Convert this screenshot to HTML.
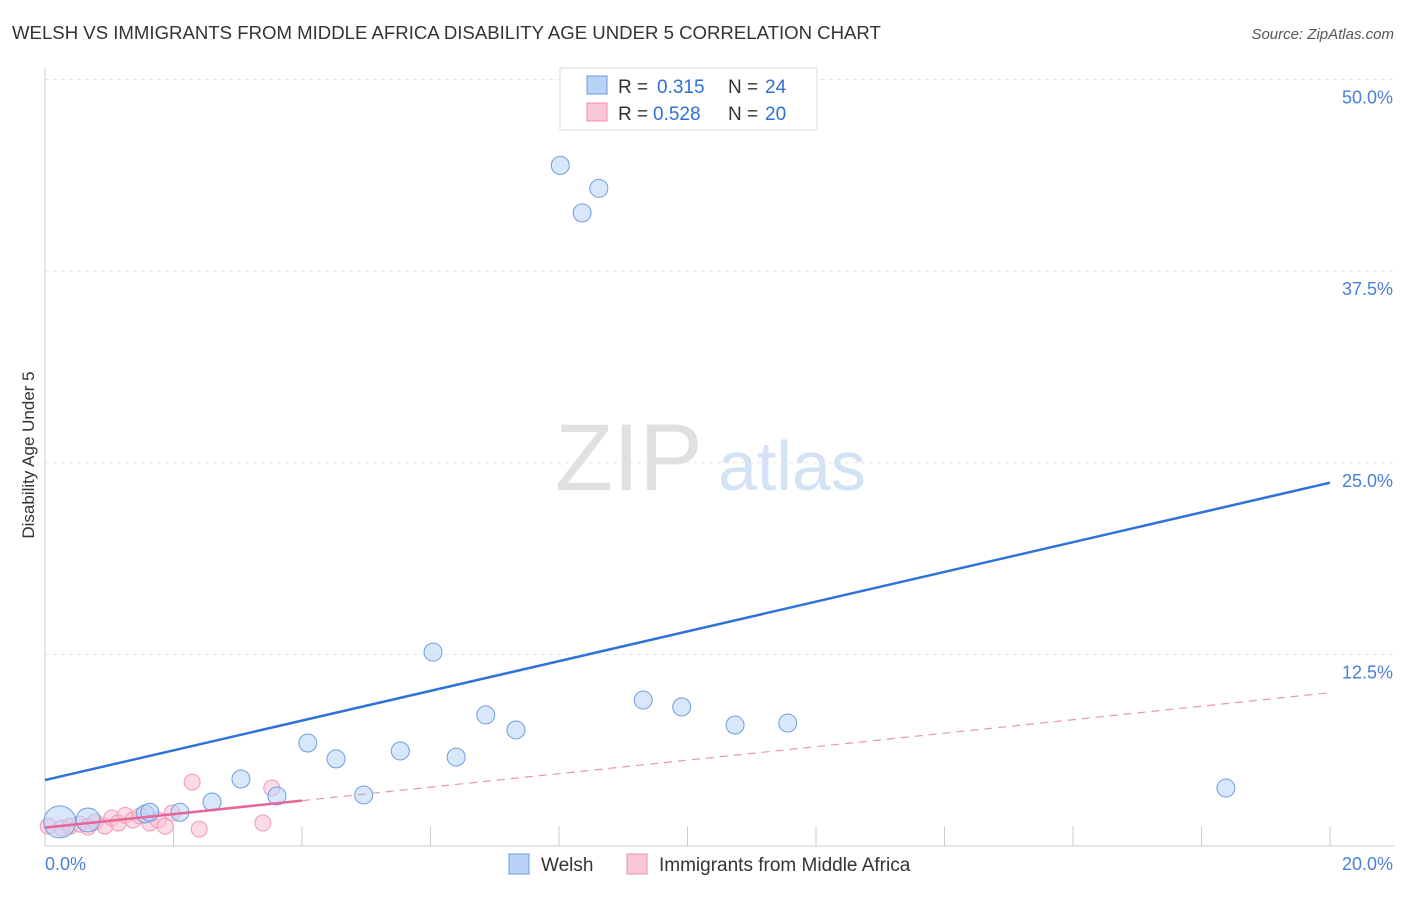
<!DOCTYPE html>
<html><head><meta charset="utf-8"><style>
body{margin:0;background:#fff;font-family:"Liberation Sans",sans-serif}
svg text{font-family:"Liberation Sans",sans-serif}
</style></head><body>
<svg width="1406" height="892" id="c">
<text x="12" y="39" font-size="18.6" fill="#333">WELSH VS IMMIGRANTS FROM MIDDLE AFRICA DISABILITY AGE UNDER 5 CORRELATION CHART</text>
<text x="1394" y="39" font-size="15" fill="#555" font-style="italic" text-anchor="end">Source: ZipAtlas.com</text>
<text x="555" y="490" font-size="95" fill="#e0e0e0" font-family="Liberation Serif">ZIP</text>
<text x="718" y="490" font-size="70" fill="#d3e2f5">atlas</text>
<text transform="translate(34,455) rotate(-90)" font-size="17" fill="#333" text-anchor="middle">Disability Age Under 5</text>
<g id="grid"></g><g id="marks"></g>
<g>
<rect x="560" y="68" width="257" height="62" fill="#fff" stroke="#ddd"/>
<rect x="587" y="76" width="20" height="18" fill="#b8d3f5" stroke="#6a9be0"/>
<rect x="587" y="103" width="20" height="18" fill="#f9c6d6" stroke="#ee90ae"/>
<text x="618" y="93" font-size="19" fill="#333">R =</text>
<text x="657" y="93" font-size="19" fill="#2f6fd6">0.315</text>
<text x="728" y="93" font-size="19" fill="#333">N =</text>
<text x="765" y="93" font-size="19" fill="#2f6fd6">24</text>
<text x="618" y="120" font-size="19" fill="#333">R =</text>
<text x="653" y="120" font-size="19" fill="#2f6fd6">0.528</text>
<text x="728" y="120" font-size="19" fill="#333">N =</text>
<text x="765" y="120" font-size="19" fill="#2f6fd6">20</text>
</g>
<g>
<rect x="509" y="854" width="20" height="20" fill="#b8d3f5" stroke="#6a9be0"/>
<text x="541" y="871" font-size="19" fill="#333">Welsh</text>
<rect x="627" y="854" width="20" height="20" fill="#f9c6d6" stroke="#ee90ae"/>
<text x="659" y="871" font-size="19" fill="#333">Immigrants from Middle Africa</text>
</g>
</svg>
<script>
const welshX=[0.23,0.67,1.56,1.63,2.1,2.6,3.05,3.61,4.09,4.53,4.96,5.53,6.04,6.4,6.86,7.33,8.02,8.36,8.62,9.31,9.91,10.74,11.56,18.38];
const welshY=[1.57,1.7,2.09,2.2,2.2,2.87,4.37,3.26,6.72,5.68,3.33,6.2,12.65,5.8,8.55,7.57,44.4,41.3,42.9,9.52,9.07,7.89,8.02,3.78];
const welshR=[16,12,9,9,9,9,9,9,9,9,9,9,9,9,9,9,9,9,9,9,9,9,9,9];
const immX=[0.05,0.26,0.39,0.54,0.67,0.78,0.93,1.04,1.14,1.25,1.37,1.48,1.63,1.76,1.87,1.98,2.29,2.4,3.39,3.53];
const immY=[1.3,1.17,1.3,1.43,1.24,1.57,1.3,1.83,1.5,2.0,1.7,1.96,1.5,1.7,1.3,2.15,4.17,1.1,1.5,3.78];
const welshLine=[4.3,23.7];
const immLine=[1.2,10.0];
const yTicks=[12.5,25,37.5,50];
const xTickLabels=["0.0%","20.0%"];
const X=v=>45+v*64.25, Y=v=>846-v*15.33;
const ns="http://www.w3.org/2000/svg";
function mk(t,a,p){const e=document.createElementNS(ns,t);for(const k in a)e.setAttribute(k,a[k]);p.appendChild(e);return e;}
const g=document.getElementById('grid'),m=document.getElementById('marks');
mk('line',{x1:45,y1:68,x2:45,y2:846,stroke:'#ccc'},g);
mk('line',{x1:45,y1:846,x2:1395,y2:846,stroke:'#ccc'},g);
for(const t of yTicks){
 const l=mk('line',{x1:45,y1:Y(t),x2:1395,y2:Y(t),stroke:'#e3e3e3','stroke-dasharray':'4,4'},g);
 
 
 const tx=mk('text',{x:1393,y:Y(t)+24,'font-size':18,fill:'#4a7fd6','text-anchor':'end'},g);
 tx.textContent=t.toFixed(1)+'%';
 
 
}
for(let i=1;i<=10;i++){
 const l=mk('line',{x1:X(i*2),y1:846,x2:X(i*2),y2:826,stroke:'#ccc'},g);
 
 
}
const t0=mk('text',{x:45,y:870,'font-size':18,fill:'#4a7fd6'},g);t0.textContent=xTickLabels[0];


const t1=mk('text',{x:1393,y:870,'font-size':18,fill:'#4a7fd6','text-anchor':'end'},g);t1.textContent=xTickLabels[1];


for(let i=0;i<immX.length;i++){
 const c=mk('circle',{cx:X(immX[i]),cy:Y(immY[i]),r:8,fill:'rgba(249,190,210,0.55)',stroke:'#ef9ab5'},m);
 
 
}
for(let i=0;i<welshX.length;i++){
 const c=mk('circle',{cx:X(welshX[i]),cy:Y(welshY[i]),r:welshR[i],fill:'rgba(184,211,245,0.55)',stroke:'#6d9de0'},m);
 
 
}
const l1=mk('line',{x1:X(0),y1:Y(welshLine[0]),x2:X(20),y2:Y(welshLine[1]),stroke:'#2f73d8','stroke-width':2.5},m);


const f=v=>immLine[0]+(immLine[1]-immLine[0])*v/20;
const l2=mk('line',{x1:X(4),y1:Y(f(4)),x2:X(20),y2:Y(f(20)),stroke:'#e896b0','stroke-width':1.2,'stroke-dasharray':'8,6'},m);


const l3=mk('line',{x1:X(0),y1:Y(f(0)),x2:X(4),y2:Y(f(4)),stroke:'#e8659a','stroke-width':2.5},m);


</script>
</body></html>
